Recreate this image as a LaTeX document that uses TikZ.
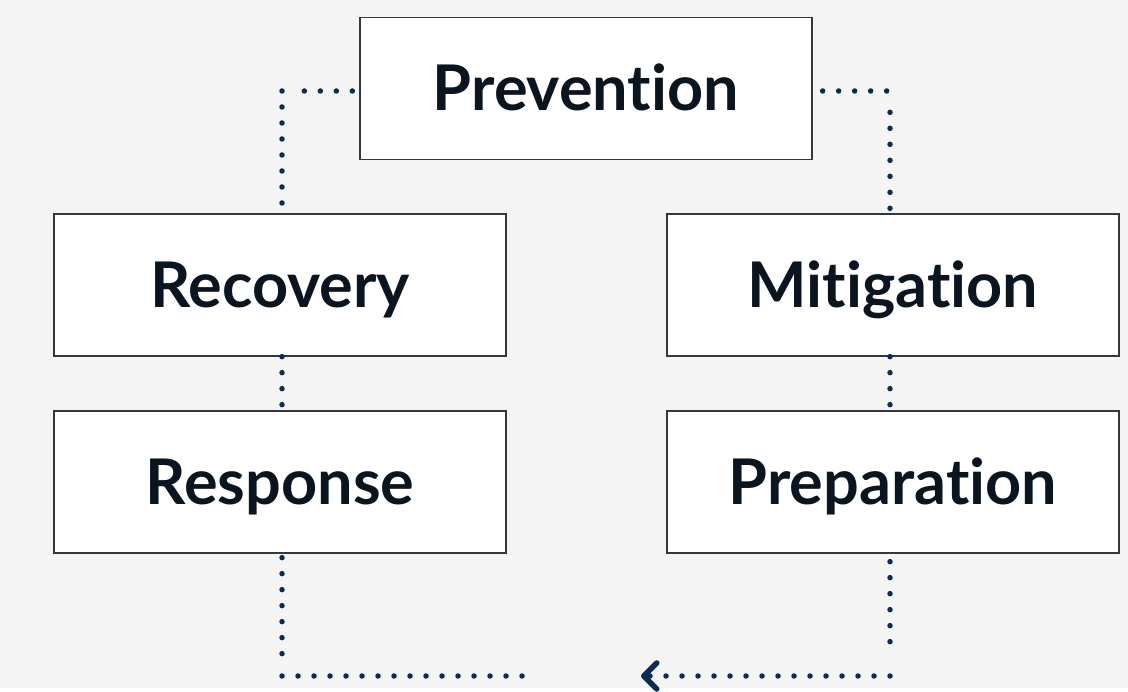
\documentclass[tikz,border=0pt]{standalone}
\usepackage{fontspec}
\setmainfont{Lato}[Ligatures=NoCommon]
\usepackage{xcolor}
\usetikzlibrary{arrows.meta}

\definecolor{navy}{HTML}{0A2B52}
\definecolor{ink}{HTML}{0B1520}
\definecolor{edgegray}{HTML}{33383D}
\definecolor{paper}{HTML}{F4F4F4}

\begin{document}
\begin{tikzpicture}[x=1pt,y=1pt,
  phase/.style={draw=edgegray, line width=1.3pt, fill=white, minimum width=452pt,
    minimum height=142pt, inner sep=0pt, text=ink, text height=45pt, text depth=0pt,
    font=\fontsize{63}{75}\selectfont\bfseries},
  dotline/.style={draw=navy, line width=5.5pt, line cap=round, dash pattern=on 0pt off 16pt}]
\fill[paper] (0,0) rectangle (1128,688);

\node[phase]  (A) at (586,599.5) {Prevention};
  \node[phase]  (B) at (893,403)   {Mitigation};
  \node[phase]  (C) at (893,206)   {Preparation};
  \node[phase]  (D) at (280,206)   {Response};
  \node[phase]  (E) at (280,403)   {Recovery};

  \coordinate (TL) at (282,597);
  \coordinate (TR) at (890,597);
  \coordinate (BL) at (282,12);
  \coordinate (BR) at (890,12);
  \coordinate (GL) at (535,12);
  \coordinate (GR) at (641,12);

  \path[dotline]
        ([xshift=-7pt]A.west |- TL) edge node {} ([xshift=12pt]TL)
        (TL) edge              node {} ([xshift=2pt]E.north)
        ([xshift=10pt]A.east |- TR) edge node {} (TR)
        ([yshift=5pt,xshift=-3pt]B.north) edge node {} ([yshift=-14pt]TR)
        ([xshift=-3pt]B.south) edge node {} ([xshift=-3pt]C.north)
        ([xshift=2pt]E.south) edge node {} ([xshift=2pt]D.north)
        ([yshift=-4pt,xshift=2pt]D.south) edge node {} ([yshift=20pt]BL)
        (BL) edge              node {} (GL)
        ([yshift=-8pt,xshift=-3pt]C.south) edge node {} ([yshift=20pt]BR);

  \draw[dotline, -{Straight Barb[length=13pt,width=26pt,line cap=round,line join=round]}]
        (BR) -- (GR);
\end{tikzpicture}
\end{document}
